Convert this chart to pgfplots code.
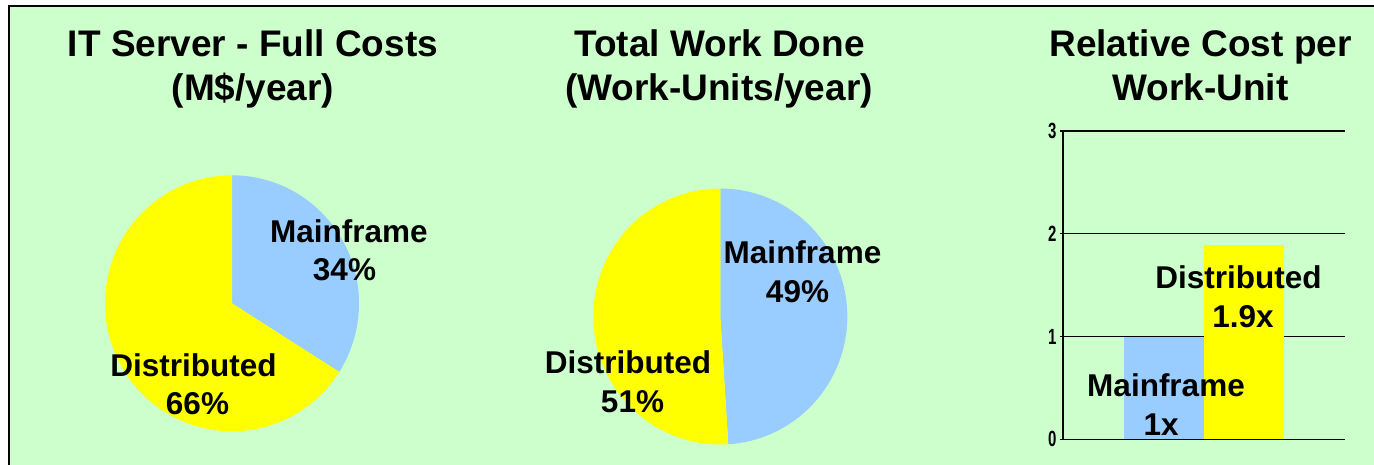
\documentclass[border=0pt]{standalone}
\usepackage{pgfplots}
\pgfplotsset{compat=1.18}
\usepackage{fontspec}
\setmainfont{Liberation Sans}
\definecolor{bg}{HTML}{CCFFCC}
\definecolor{mfblue}{HTML}{99CCFF}
\definecolor{distyellow}{HTML}{FFFF00}
% data (percent shares and relative cost)
\def\costMF{34}\def\costDI{66}
\def\workMF{49}\def\workDI{51}
\begin{document}
\begin{tikzpicture}[x=0.5pt,y=-0.5pt]
\useasboundingbox (0,0) rectangle (1374,465);
\fill[white] (0,0) rectangle (1374,465);
\fill[bg] (8,7) rectangle (1374,465);
\draw[line width=1pt] (8.5,465) -- (8.5,6.5) -- (1374,6.5);

% Pie 1
\begin{axis}[at={(116pt,-151.65pt)}, anchor=center, scale only axis, width=127pt, height=128pt,
  xmin=-1,xmax=1,ymin=-1,ymax=1, hide axis, clip=false]
\addplot[fill=mfblue, draw=none, domain=90-3.6*\costMF:90, samples=120, variable=\t]
  ({cos(\t)},{sin(\t)}) -- (axis cs:0,0) -- cycle;
\addplot[fill=distyellow, draw=none, domain=90-3.6*\costMF-3.6*\costDI:90-3.6*\costMF, samples=200, variable=\t]
  ({cos(\t)},{sin(\t)}) -- (axis cs:0,0) -- cycle;
\end{axis}

% Pie 2
\begin{axis}[at={(360.15pt,-158.25pt)}, anchor=center, scale only axis, width=127pt, height=128pt,
  xmin=-1,xmax=1,ymin=-1,ymax=1, hide axis, clip=false]
\addplot[fill=mfblue, draw=none, domain=90-3.6*\workMF:90, samples=150, variable=\t]
  ({cos(\t)},{sin(\t)}) -- (axis cs:0,0) -- cycle;
\addplot[fill=distyellow, draw=none, domain=90-3.6*\workMF-3.6*\workDI:90-3.6*\workMF, samples=150, variable=\t]
  ({cos(\t)},{sin(\t)}) -- (axis cs:0,0) -- cycle;
\end{axis}

% Bar chart
\begin{axis}[at={(531.5pt,-219.65pt)}, anchor=south west, scale only axis,
  width=141.2pt, height=154.2pt,
  xmin=-1.255, xmax=2.261, ymin=0, ymax=3, ytick={0,1,2,3}, xtick=\empty,
  ymajorgrids, grid style={black, line width=0.6pt},
  axis x line=none, axis y line*=left, tick align=outside, major tick length=1.5pt,
  y axis line style={line width=0.6pt}, ytick style={line width=0.6pt, black},
  ybar, bar width=1, bar shift=0pt,
  yticklabel={\bfseries\fontsize{11}{12}\selectfont\pgfmathprintnumber[assume math mode=true]{\tick}},
  yticklabel style={xscale=0.68, inner sep=2.5pt},
  clip=false]
\addplot[fill=mfblue, draw=none] coordinates {(0,1)};
\addplot[fill=distyellow, draw=none] coordinates {(1,1.89)};
\end{axis}

% Titles
\tikzset{ttl/.style={font=\bfseries\fontsize{18.5}{22}\selectfont, anchor=base, inner sep=0pt},
         lbl/.style={font=\bfseries\fontsize{15.75}{19}\selectfont, anchor=base, inner sep=0pt}}
\node[ttl] at (253,57) {IT Server - Full Costs};
\node[ttl] at (253,100.5) {(M\$/year)};
\node[ttl] at (719.5,57) {Total Work Done};
\node[ttl] at (719,100.5) {(Work-Units/year)};
\node[ttl] at (1200.5,57) {Relative Cost per};
\node[ttl] at (1200.5,100.5) {Work-Unit};

% Pie labels
\node[lbl] at (349,242) {Mainframe};
\node[lbl] at (344.5,280) {34\%};
\node[lbl] at (193.5,376) {Distributed};
\node[lbl] at (197.5,414) {66\%};
\node[lbl] at (802.5,263) {Mainframe};
\node[lbl] at (797.5,302) {49\%};
\node[lbl] at (628,373) {Distributed};
\node[lbl] at (632.5,412) {51\%};

% Bar labels
\node[lbl] at (1238.5,288) {Distributed};
\node[lbl] at (1243,327) {1.9x};
\node[lbl] at (1166,396) {Mainframe};
\node[lbl] at (1161,435) {1x};
\end{tikzpicture}
\end{document}
